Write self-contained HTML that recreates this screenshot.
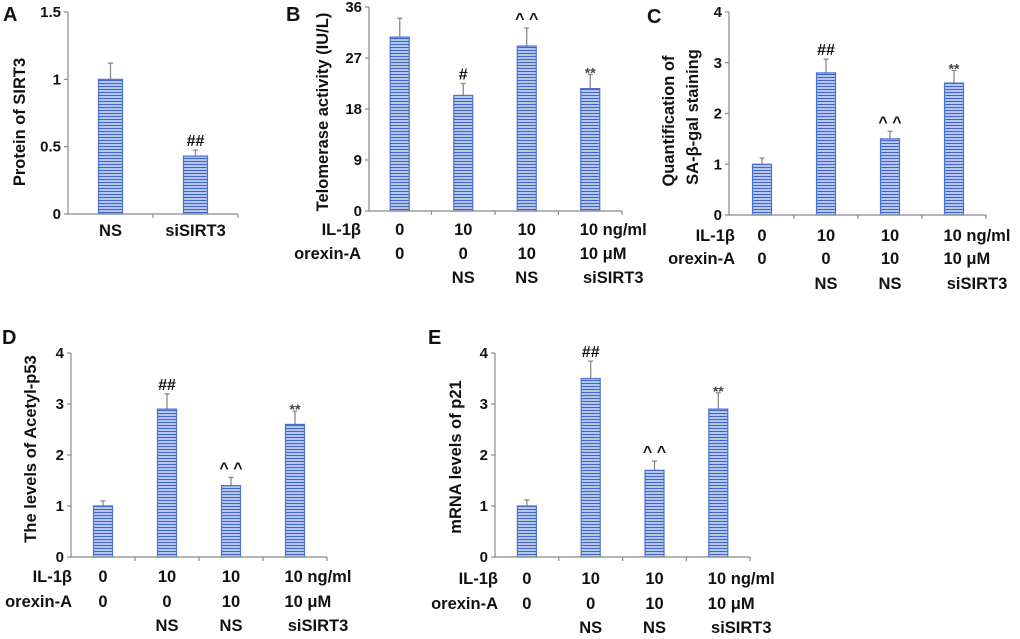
<!DOCTYPE html>
<html><head><meta charset="utf-8"><style>
html,body{margin:0;padding:0;background:#fff}
svg{display:block;font-family:"Liberation Sans",sans-serif;font-weight:bold}
</style></head><body>
<svg id="fig" width="1020" height="639" viewBox="0 0 1020 639" xmlns="http://www.w3.org/2000/svg">
<defs>
<pattern id="stripes" patternUnits="userSpaceOnUse" width="6" height="3">
<rect width="6" height="3" fill="#b4c6ec"/><rect width="6" height="1" y="2" fill="#3f66c8"/>
</pattern>
</defs>
</svg>
<script>
// Panel A
const catsA = ["NS","siSIRT3"];
const valsA = [1.0, 0.43];
const errA = [1.12, 0.475];
const annA = ["", "##"];
const ticksA = ["0","0.5","1","1.5"];
// Panel B
const valsB = [30.7, 20.4, 29.1, 21.6];
const errB = [34.0, 22.5, 32.3, 24.1];
const annB = ["", "#", "^ ^", "**"];
const ticksB = ["0","9","18","27","36"];
// Panel C
const valsC = [1.0, 2.8, 1.5, 2.6];
const errC = [1.12, 3.07, 1.65, 2.85];
const annC = ["", "##", "^ ^", "**"];
const ticksC = ["0","1","2","3","4"];
// Panel D
const valsD = [1.0, 2.9, 1.4, 2.6];
const errD = [1.1, 3.2, 1.56, 2.86];
const annD = ["", "##", "^ ^", "**"];
const ticksD = ["0","1","2","3","4"];
// Panel E
const valsE = [1.0, 3.5, 1.7, 2.9];
const errE = [1.12, 3.84, 1.88, 3.22];
const annE = ["", "##", "^ ^", "**"];
const ticksE = ["0","1","2","3","4"];
// Shared condition rows
const rowIL = ["0","10","10","10 ng/ml"];
const rowOx = ["0","0","10","10 μM"];
const rowSi = ["","NS","NS","siSIRT3"];

const NS = "http://www.w3.org/2000/svg";
const svg = document.getElementById('fig');
function mk(tag, attrs, parent){
  const e = document.createElementNS(NS, tag);
  for (const k in attrs) e.setAttribute(k, attrs[k]);
  (parent||svg).appendChild(e);
  return e;
}
function txt(s, x, y, size, anchor, parent, fill){
  const t = mk('text', {x:x, y:y, 'font-size':size, 'text-anchor':anchor||'middle', fill:fill||'#111'}, parent);
  t.textContent = s;
  return t;
}

function panel(cfg){
  const g = mk('g', {});
  
  
  const ticks = cfg.ticks;
  const max = parseFloat(ticks[ticks.length-1]);
  const yS = v => cfg.y0 - (v / max) * (cfg.y0 - cfg.yTop);
  const n = cfg.vals.length;
  const cx = i => cfg.xStart + cfg.catW * (i + 0.5);
  const xEnd = cfg.xStart + cfg.catW * n;
  const L = txt(cfg.id, cfg.lx, cfg.ly, 20, 'start', g);
  
  
  const ya = mk('line', {x1:cfg.ax, y1:cfg.yTop, x2:cfg.ax, y2:cfg.y0, stroke:'#8a8a8a', 'stroke-width':1.2}, g);
  
  
  ticks.forEach(t => {
    const y = yS(parseFloat(t));
    mk('line', {x1:cfg.ax-4, y1:y, x2:cfg.ax, y2:y, stroke:'#8a8a8a', 'stroke-width':1.2}, g);
    const tl = txt(t, cfg.ax-7, y+5, 15, 'end', g);
    
    
  });
  cfg.title.forEach(tt => {
    const t = txt(tt[0], 0, 0, 16.5, 'middle', g);
    t.setAttribute('transform', 'translate(' + tt[1] + ',' + tt[2] + ') rotate(-90)');
    t.setAttribute('dy', '6');
    
    
  });
  cfg.vals.forEach((v, i) => {
    const x = cx(i) - cfg.barW/2;
    const yt = yS(v), ye = yS(cfg.err[i]);
    const eb = mk('path', {d:'M'+cx(i)+' '+yt+'V'+ye+'M'+(cx(i)-2.5)+' '+ye+'H'+(cx(i)+2.5), stroke:'#8a8a8a', 'stroke-width':1.3, fill:'none'}, g);
    
    
    const r = mk('rect', {x:x, y:yt, width:cfg.barW, height:cfg.y0-yt, fill:'url(#stripes)', stroke:'#4a72d0', 'stroke-width':1.2}, g);
    
    
    const a = cfg.ann[i];
    if (a) {
      const star = a === '**';
      const at = txt(a, cx(i), star ? ye+3 : ye-4, star ? 14 : 16, 'middle', g, star ? '#444' : '#111');
      
      
    }
  });
  const xa = mk('line', {x1:cfg.ax, y1:cfg.y0, x2:xEnd, y2:cfg.y0, stroke:'#8a8a8a', 'stroke-width':1.2}, g);
  
  
  for (let i = 1; i <= n; i++) {
    const x = cfg.xStart + cfg.catW * i;
    mk('line', {x1:x, y1:cfg.y0, x2:x, y2:cfg.y0+4, stroke:'#8a8a8a', 'stroke-width':1.2}, g);
  }
  if (cfg.cats) {
    cfg.cats.forEach((c, i) => {
      const t = txt(c, cx(i), cfg.rows[0]+6, 16.5, 'middle', g);
      
      
    });
  } else {
    const rowsData = [rowIL, rowOx, rowSi];
    const rowNames = ['IL-1β', 'orexin-A', ''];
    rowsData.forEach((row, r) => {
      const y = cfg.rows[r] + 6;
      if (rowNames[r]) {
        const h = txt(rowNames[r], cfg.rowLabelX, y, 16.5, 'end', g);
        
        
      }
      row.forEach((s, i) => {
        if (!s) return;
        let t;
        if (i === n-1 && r < 2) t = txt(s, cx(i) - cfg.barW/2 - 1, y, 16.5, 'start', g);
        else if (i === n-1) t = txt(s, cx(i) + 23, y, 16.5, 'middle', g);
        else t = txt(s, cx(i), y, 16.5, 'middle', g);
        
        
      });
    });
  }
}

panel({id:'A', lx:3, ly:21, ax:68, xStart:68, catW:85, barW:24, yTop:12, y0:214,
  ticks:ticksA, vals:valsA, err:errA, ann:annA, cats:catsA, rows:[230],
  title:[['Protein of SIRT3', 19, 122]]});
panel({id:'B', lx:286, ly:21, ax:369, xStart:368, catW:63.5, barW:19, yTop:7, y0:211,
  ticks:ticksB, vals:valsB, err:errB, ann:annB, rows:[229,253,277], rowLabelX:361,
  title:[['Telomerase activity (IU/L)', 322, 112]]});
panel({id:'C', lx:647, ly:23, ax:729, xStart:730, catW:64, barW:19, yTop:12, y0:215,
  ticks:ticksC, vals:valsC, err:errC, ann:annC, rows:[235,258,283], rowLabelX:735,
  title:[['Quantification of', 668, 121],['SA-β-gal staining', 692, 117]]});
panel({id:'D', lx:2, ly:344, ax:71, xStart:71, catW:64, barW:19, yTop:353, y0:557,
  ticks:ticksD, vals:valsD, err:errD, ann:annD, rows:[576,601,625], rowLabelX:72,
  title:[['The levels of Acetyl-p53', 30, 449]]});
panel({id:'E', lx:428, ly:344, ax:495, xStart:495, catW:63.8, barW:19, yTop:353, y0:557,
  ticks:ticksE, vals:valsE, err:errE, ann:annE, rows:[578,603,627], rowLabelX:498,
  title:[['mRNA levels of p21', 455, 457]]});
</script>
</body></html>
